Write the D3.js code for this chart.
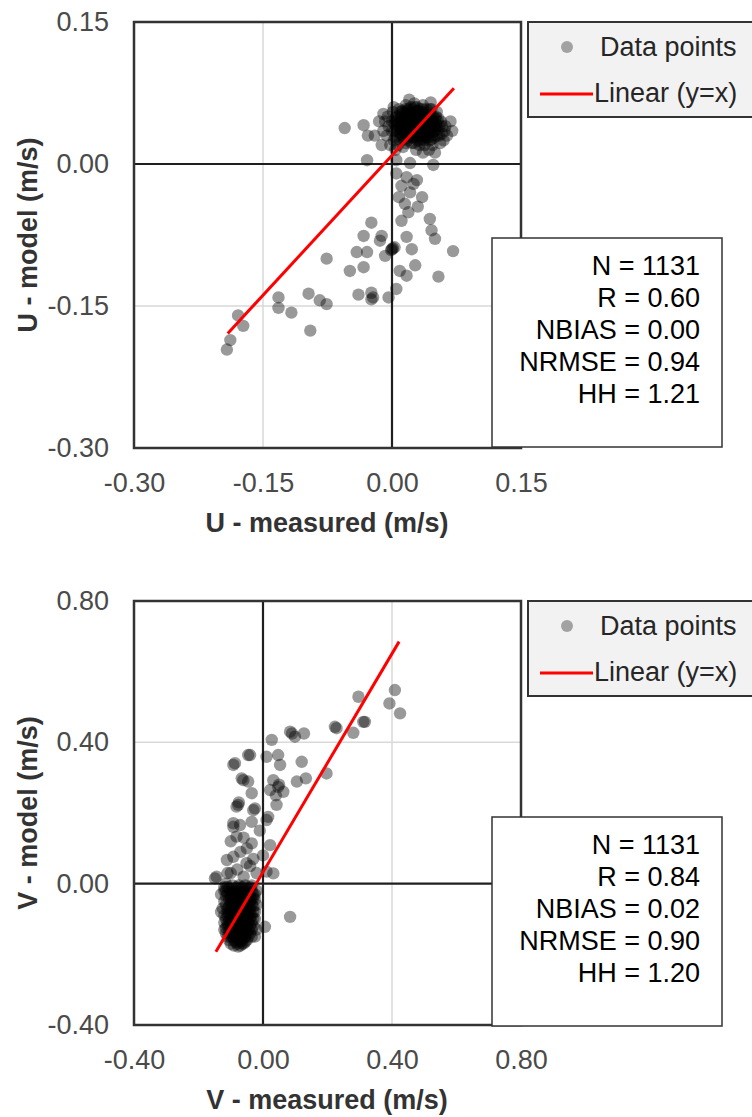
<!DOCTYPE html>
<html lang="en">
<head>
<meta charset="utf-8" />
<title>U and V model vs measured</title>
<script src="https://d3js.org/d3.v7.min.js"></script>
<style>
  body { margin: 0; background: #fff; }
  svg text { font-family: "Liberation Sans", Arial, sans-serif; }
</style>
</head>
<body>
<script>
// ---- data: [measured, model] in m/s ----
var uPoints = [
  [-0.024,-0.062],[-0.033,-0.076],[-0.012,-0.076],[-0.014,-0.081],[-0.041,-0.093],[-0.029,-0.093],
  [-0.076,-0.100],[-0.049,-0.113],[-0.033,-0.109],[-0.008,-0.097],[0.000,-0.090],[0.001,-0.089],
  [-0.001,-0.091],[0.003,-0.088],[0.017,-0.077],[0.023,-0.090],[0.011,-0.060],[0.019,-0.051],
  [0.044,-0.058],[0.046,-0.070],[0.050,-0.079],[0.071,-0.092],[0.027,-0.107],[0.009,-0.113],
  [0.017,-0.118],[0.054,-0.119],[0.005,-0.132],[-0.004,-0.141],[-0.024,-0.136],[-0.024,-0.143],
  [-0.022,-0.141],[-0.039,-0.138],[-0.097,-0.137],[-0.084,-0.144],[-0.076,-0.148],[-0.132,-0.141],
  [-0.132,-0.152],[-0.117,-0.157],[-0.095,-0.176],[-0.179,-0.160],[-0.173,-0.171],[-0.188,-0.186],
  [-0.192,-0.196],[0.011,-0.023],[0.025,-0.021],[0.035,-0.035],[0.015,-0.042],[0.005,-0.010],
  [0.021,-0.030],[0.030,-0.045],[0.008,-0.035],
  [-0.033,0.041],[-0.028,0.030],[-0.029,0.004],[-0.010,0.053],[0.005,0.004],[0.021,0.001],
  [0.048,-0.001],[0.017,-0.014],[0.029,-0.017],[-0.055,0.038],
  [0.000,0.045],[0.005,0.050],[0.010,0.040],[0.015,0.055],[0.020,0.035],[0.025,0.045],
  [0.030,0.050],[0.035,0.040],[0.040,0.030],[0.045,0.045],[0.050,0.035],[0.055,0.040],
  [0.012,0.030],[0.018,0.025],[0.022,0.060],[0.028,0.028],[0.033,0.058],[0.038,0.052],
  [0.042,0.038],[0.048,0.050],[0.008,0.058],[0.003,0.035],[-0.004,0.040],[-0.006,0.030],
  [0.002,0.025],[0.007,0.020],[0.014,0.045],[0.019,0.048],[0.024,0.038],[0.029,0.042],
  [0.034,0.030],[0.039,0.044],[0.044,0.025],[0.049,0.028],[0.054,0.048],[0.058,0.032],
  [0.062,0.040],[0.060,0.025],[0.016,0.062],[0.026,0.064],[0.036,0.062],[0.011,0.052],
  [0.021,0.042],[0.031,0.036],[0.041,0.048],[0.046,0.058],[0.052,0.055],[0.006,0.042],
  [0.017,0.035],[0.027,0.032],[0.037,0.025],[0.047,0.020],[0.013,0.018],[0.023,0.022],
  [0.032,0.020],[0.043,0.015],[0.009,0.033],[0.019,0.030],[0.028,0.055],[0.038,0.035],
  [0.025,0.052],[0.015,0.040],[0.035,0.047],[0.022,0.028],[0.030,0.025],[0.040,0.058],
  [0.010,0.048],[0.001,0.055],[0.056,0.022],[0.064,0.030],[-0.002,0.020],[0.004,0.015],
  [0.036,0.012],[0.050,0.012],[0.028,0.015],[-0.010,0.035],[-0.015,0.045],[-0.020,0.030],
  [-0.012,0.020],[0.070,0.035],[0.068,0.045],[0.045,0.065],[0.020,0.068],[0.030,0.045],
  [0.026,0.040],[0.018,0.050],[0.033,0.053],[0.024,0.033],[0.014,0.026],[0.039,0.040],
  [0.003,0.048],[0.008,0.044],[0.013,0.050],[0.018,0.056],[0.023,0.052],[0.028,0.048],
  [0.033,0.044],[0.038,0.048],[0.043,0.052],[0.048,0.044],[0.053,0.036],[0.006,0.037],
  [0.011,0.036],[0.016,0.032],[0.021,0.038],[0.026,0.036],[0.031,0.032],[0.036,0.034],
  [0.041,0.032],[0.046,0.038],[0.051,0.042],[0.004,0.028],[0.009,0.026],[0.014,0.034],
  [0.019,0.040],[0.024,0.044],[0.029,0.038],[0.034,0.036],[0.039,0.028],[0.044,0.034],
  [0.049,0.040],[0.012,0.056],[0.017,0.044],[0.022,0.048],[0.027,0.056],[0.032,0.040],
  [0.037,0.044],[0.042,0.044],[0.047,0.030],[0.052,0.030],[0.020,0.032],[0.025,0.028],
  [0.030,0.030],[0.035,0.026],[0.040,0.036],[0.015,0.048],[0.010,0.032],[0.005,0.040],
  [0.000,0.035],[0.045,0.040],[0.050,0.048],[0.055,0.030],[0.024,0.058],[0.034,0.050],
  [0.029,0.060],[0.019,0.058],[0.044,0.058],[0.057,0.045],[0.061,0.035],[-0.005,0.050],
  [-0.008,0.045],[0.002,0.060],[0.038,0.020],[0.026,0.022],[0.016,0.022],
  [0.005,0.045],[0.010,0.055],[0.015,0.037],[0.020,0.045],[0.025,0.050],[0.030,0.040],
  [0.035,0.055],[0.040,0.045],[0.045,0.050],[0.050,0.040],[0.012,0.042],[0.017,0.052],
  [0.022,0.040],[0.027,0.044],[0.032,0.048],[0.037,0.038],[0.042,0.028],[0.047,0.046],
  [0.008,0.050],[0.013,0.038],[0.018,0.036],[0.023,0.030],[0.028,0.034],[0.033,0.024],
  [0.038,0.030],[0.043,0.040],[0.048,0.034],[0.053,0.045],[0.058,0.040],[0.003,0.042],
  [0.021,0.054],[0.031,0.056],[0.041,0.054],[0.026,0.060],[0.036,0.058],[0.016,0.058],
  [0.011,0.044],[0.046,0.026],[0.051,0.050],[0.006,0.030]
];

var vPoints = [
  [0.296,0.529],[0.392,0.510],[0.425,0.482],[0.409,0.548],[0.311,0.458],[0.280,0.427],
  [0.228,0.440],[0.084,0.430],[0.090,0.425],[0.099,0.416],[0.127,0.425],[0.027,0.407],
  [-0.046,0.364],[-0.092,0.336],[0.011,0.359],[0.047,0.364],[0.053,0.336],[0.120,0.345],
  [0.197,0.312],[0.105,0.289],[0.133,0.298],[-0.066,0.298],[-0.046,0.289],[0.032,0.293],
  [0.047,0.274],[0.063,0.260],[0.022,0.265],[-0.035,0.256],[0.042,0.223],[-0.077,0.223],
  [-0.025,0.213],[0.016,0.189],[-0.092,0.171],[-0.035,0.175],[0.223,0.444],[0.316,0.458],
  [-0.087,0.341],[-0.040,0.364],[-0.061,0.293],[-0.082,0.218],[-0.030,0.208],[0.011,0.180],
  [-0.092,0.161],[-0.082,0.133],[-0.035,0.114],[0.022,0.109],[-0.092,0.076],[-0.051,0.058],
  [-0.144,0.020],[0.032,0.029],[0.084,-0.094],[-0.149,0.015],[-0.071,0.166],[-0.112,0.067],
  [0.006,-0.122],[-0.077,-0.178],[0.011,0.034],[-0.075,0.230],[0.050,0.280],[0.040,0.250],
  [-0.100,0.030],[-0.080,0.040],[-0.060,0.020],[-0.040,0.050],[-0.020,0.030],[-0.070,0.090],
  [-0.050,0.100],[-0.100,0.120],[-0.030,0.070],[-0.060,0.130],[0.000,0.080],[-0.010,0.150],
  [-0.110,0.030],
  [-0.120,-0.010],[-0.100,-0.020],[-0.080,-0.010],[-0.060,-0.020],[-0.040,-0.010],[-0.030,-0.030],
  [-0.050,-0.040],[-0.070,-0.030],[-0.090,-0.040],[-0.110,-0.030],[-0.120,-0.050],[-0.100,-0.060],
  [-0.080,-0.050],[-0.060,-0.060],[-0.040,-0.050],[-0.020,-0.060],[-0.030,-0.080],[-0.050,-0.080],
  [-0.070,-0.070],[-0.090,-0.080],[-0.110,-0.070],[-0.120,-0.090],[-0.100,-0.100],[-0.080,-0.090],
  [-0.060,-0.100],[-0.040,-0.100],[-0.030,-0.120],[-0.050,-0.120],[-0.070,-0.110],[-0.090,-0.120],
  [-0.110,-0.110],[-0.120,-0.130],[-0.100,-0.140],[-0.080,-0.130],[-0.060,-0.140],[-0.040,-0.140],
  [-0.050,-0.160],[-0.070,-0.150],[-0.090,-0.160],[-0.110,-0.150],[-0.080,-0.170],[-0.060,-0.170],
  [-0.100,-0.170],[-0.115,-0.020],[-0.095,-0.025],[-0.075,-0.020],[-0.055,-0.030],[-0.035,-0.020],
  [-0.025,-0.045],[-0.045,-0.055],[-0.065,-0.045],[-0.085,-0.065],[-0.105,-0.045],[-0.125,-0.070],
  [-0.095,-0.085],[-0.075,-0.080],[-0.055,-0.090],[-0.035,-0.090],[-0.025,-0.100],[-0.045,-0.110],
  [-0.065,-0.120],[-0.085,-0.110],[-0.105,-0.120],[-0.115,-0.100],[-0.095,-0.130],[-0.075,-0.140],
  [-0.055,-0.130],[-0.035,-0.130],[-0.045,-0.150],[-0.065,-0.160],[-0.085,-0.150],[-0.105,-0.160],
  [-0.070,-0.175],[-0.090,-0.175],[-0.080,-0.030],[-0.060,-0.040],[-0.100,-0.080],[-0.070,-0.090],
  [-0.050,-0.070],[-0.030,-0.065],[-0.090,-0.100],[-0.060,-0.080],[-0.080,-0.120],[-0.100,-0.030],
  [-0.020,-0.020],[-0.130,-0.030],[-0.130,-0.080],[-0.020,-0.130],[-0.025,-0.150],[-0.115,-0.140],
  [-0.115,-0.035],[-0.105,-0.015],[-0.095,-0.050],[-0.085,-0.020],[-0.075,-0.055],[-0.065,-0.025],
  [-0.055,-0.050],[-0.045,-0.030],[-0.035,-0.060],[-0.025,-0.030],[-0.115,-0.060],[-0.105,-0.085],
  [-0.095,-0.070],[-0.085,-0.090],[-0.075,-0.100],[-0.065,-0.085],[-0.055,-0.110],[-0.045,-0.080],
  [-0.035,-0.110],[-0.025,-0.080],[-0.115,-0.125],[-0.105,-0.135],[-0.095,-0.110],[-0.085,-0.140],
  [-0.075,-0.125],[-0.065,-0.140],[-0.055,-0.150],[-0.045,-0.130],[-0.035,-0.150],[-0.095,-0.150],
  [-0.085,-0.165],[-0.075,-0.160],[-0.065,-0.170],[-0.055,-0.165],[-0.110,-0.090],[-0.090,-0.060],
  [-0.070,-0.060],[-0.050,-0.100],[-0.030,-0.040],[-0.080,-0.075],[-0.060,-0.115],[-0.040,-0.120],
  [-0.100,-0.110],[-0.080,-0.100],[-0.060,-0.050],[-0.120,-0.110],[-0.090,-0.020],[-0.070,-0.040],
  [-0.050,-0.020],[-0.040,-0.070],[-0.100,-0.050],[-0.120,-0.020],[-0.075,-0.005],[-0.055,-0.005],
  [-0.095,-0.005],[-0.035,-0.005],[-0.115,0.000],[-0.080,-0.145],[-0.060,-0.130],[-0.090,-0.140],
  [-0.110,-0.010],[-0.090,-0.030],[-0.070,-0.015],[-0.050,-0.030],[-0.040,-0.040],[-0.100,-0.040],
  [-0.080,-0.060],[-0.060,-0.070],[-0.040,-0.085],[-0.110,-0.080],[-0.090,-0.090],[-0.070,-0.080],
  [-0.050,-0.090],[-0.030,-0.100],[-0.110,-0.120],[-0.090,-0.110],[-0.070,-0.130],[-0.050,-0.140],
  [-0.100,-0.150],[-0.080,-0.155],[-0.060,-0.155],[-0.070,-0.165],[-0.085,-0.040],[-0.065,-0.065],
  [-0.045,-0.065],[-0.105,-0.065],[-0.085,-0.080],[-0.065,-0.100],[-0.045,-0.095],[-0.095,-0.095],
  [-0.075,-0.115],[-0.055,-0.125],[-0.085,-0.125],[-0.105,-0.105],[-0.075,-0.035],[-0.055,-0.060],
  [-0.095,-0.035],[-0.035,-0.045],[-0.065,-0.010],[-0.045,-0.015]
];

// reference line ends as drawn
var uLine = [[-0.191,-0.179],[0.072,0.080]];
var vLine = [[-0.146,-0.193],[0.422,0.685]];

var uTicks = [-0.30, -0.15, 0.00, 0.15];
var vTicks = [-0.40, 0.00, 0.40, 0.80];

var legendLabels = ["Data points", "Linear (y=x)"];
var uStats = ["N = 1131", "R = 0.60", "NBIAS = 0.00", "NRMSE = 0.94", "HH = 1.21"];
var vStats = ["N = 1131", "R = 0.84", "NBIAS = 0.02", "NRMSE = 0.90", "HH = 1.20"];

var w = 752, h = 1117;
var svg = d3.select("body").append("svg")
  .attr("width", w)
  .attr("height", h);

function drawPanel(p) {
  var x = d3.scaleLinear().domain(p.domain).range([134, 521]);
  var y = d3.scaleLinear().domain(p.domain).range([p.bottom, p.top]);
  var g = svg.append("g");

  // light grid lines
  g.selectAll(".vgrid").data(p.grid).enter().append("line")
    .attr("x1", d => x(d)).attr("x2", d => x(d))
    .attr("y1", p.top).attr("y2", p.bottom)
    .attr("stroke", "#d9d9d9").attr("stroke-width", 1.5);
  g.selectAll(".hgrid").data(p.grid).enter().append("line")
    .attr("y1", d => y(d)).attr("y2", d => y(d))
    .attr("x1", 134).attr("x2", 521)
    .attr("stroke", "#d9d9d9").attr("stroke-width", 1.5);

  // zero lines
  g.append("line").attr("x1", x(0)).attr("x2", x(0))
    .attr("y1", p.top).attr("y2", p.bottom)
    .attr("stroke", "#1f1f1f").attr("stroke-width", 2.2);
  g.append("line").attr("x1", 134).attr("x2", 521)
    .attr("y1", y(0)).attr("y2", y(0))
    .attr("stroke", "#1f1f1f").attr("stroke-width", 2.2);

  g.selectAll("circle").data(p.points).enter().append("circle")
    .attr("cx", d => x(d[0]))
    .attr("cy", d => y(d[1]))
    .attr("r", 6.2)
    .style("fill", "#000")
    .style("opacity", 0.4);

  g.append("path")
    .datum(p.line)
    .attr("d", d3.line().x(d => x(d[0])).y(d => y(d[1])))
    .attr("stroke", "#ff0000").attr("stroke-width", 3).attr("fill", "none");

  g.append("rect")
    .attr("x", 134).attr("y", p.top)
    .attr("width", 387).attr("height", p.bottom - p.top)
    .attr("fill", "none").attr("stroke", "#333").attr("stroke-width", 2.5);

  // axes: labels only
  var fmt = d => d.toFixed(2);
  var ax = g.append("g").attr("transform", "translate(0," + p.bottom + ")")
    .call(d3.axisBottom(x).tickValues(p.ticks).tickFormat(fmt).tickSize(0).tickPadding(25));
  var ay = g.append("g").attr("transform", "translate(134,0)")
    .call(d3.axisLeft(y).tickValues(p.ticks).tickFormat(fmt).tickSize(0).tickPadding(25));
  [ax, ay].forEach(function(a) {
    a.select(".domain").remove();
    a.selectAll("text").attr("font-size", 27).attr("fill", "#4a4a4a")
      .style("font-family", "'Liberation Sans', Arial, sans-serif");
  });

  g.append("text")
    .attr("x", 327).attr("y", p.bottom + 84)
    .attr("text-anchor", "middle")
    .attr("font-size", 27).attr("font-weight", "bold").attr("fill", "#333")
    .text(p.xTitle);
  g.append("text")
    .attr("transform", "translate(37," + (p.top + p.bottom) / 2 + ") rotate(-90)")
    .attr("text-anchor", "middle")
    .attr("font-size", 27).attr("font-weight", "bold").attr("fill", "#333")
    .text(p.yTitle);

  // legend
  var lg = g.append("g").attr("transform", "translate(528," + p.top + ")");
  lg.append("rect").attr("width", 240).attr("height", 95)
    .attr("fill", "#f2f2f2").attr("stroke", "#333").attr("stroke-width", 2);
  lg.append("circle").attr("cx", 39).attr("cy", 25).attr("r", 6)
    .style("fill", "#000").style("opacity", 0.33);
  lg.append("line").attr("x1", 12).attr("x2", 65).attr("y1", 72).attr("y2", 72)
    .attr("stroke", "#ff0000").attr("stroke-width", 3);
  lg.selectAll("text").data(legendLabels).enter().append("text")
    .attr("x", (d, i) => i == 0 ? 72 : 66)
    .attr("y", (d, i) => i == 0 ? 34 : 80)
    .attr("font-size", 27).attr("fill", "#262626")
    .text(d => d);

  // statistics box
  var sb = g.append("g").attr("transform", "translate(492," + p.statsTop + ")");
  sb.append("rect").attr("width", 230).attr("height", 209)
    .attr("fill", "#fff").attr("stroke", "#333").attr("stroke-width", 1.5);
  sb.selectAll("text").data(p.stats).enter().append("text")
    .attr("x", 208)
    .attr("y", (d, i) => 37 + i * 32)
    .attr("text-anchor", "end")
    .attr("font-size", 27).attr("fill", "#000")
    .text(d => d);
}

drawPanel({
  domain: [-0.30, 0.15], top: 22, bottom: 448, statsTop: 238,
  ticks: uTicks, grid: [-0.15], points: uPoints, line: uLine, stats: uStats,
  xTitle: "U - measured (m/s)", yTitle: "U - model (m/s)"
});
drawPanel({
  domain: [-0.40, 0.80], top: 601, bottom: 1025, statsTop: 817,
  ticks: vTicks, grid: [0.40], points: vPoints, line: vLine, stats: vStats,
  xTitle: "V - measured (m/s)", yTitle: "V - model (m/s)"
});
</script>
</body>
</html>
